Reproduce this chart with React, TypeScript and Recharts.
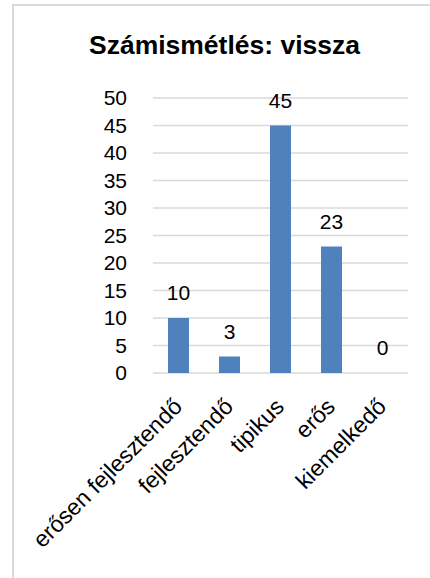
import React from "react";
import { ComposedChart, Bar, Line, XAxis, YAxis, CartesianGrid, LabelList } from "recharts";

const categories = ["erősen fejlesztendő", "fejlesztendő", "tipikus", "erős", "kiemelkedő"];
const values = [10, 3, 45, 23, 0];
const yTicks = [0, 5, 10, 15, 20, 25, 30, 35, 40, 45, 50];
const title = "Számismétlés: vissza";

const data = categories.map((c, i) => ({ name: c, value: values[i] }));

const FONT = "'Liberation Sans', Arial, sans-serif";

const XTick = (props: any) => {
  const { x, y, payload } = props;
  const ax = x + 5;
  const ay = y + 35;
  return (
    <text
      x={ax}
      y={ay}
      textAnchor="end"
      transform={`rotate(-45, ${ax}, ${ay})`}
      fontFamily={FONT}
      fontSize={23}
      fill="#000"
    >
      {payload.value}
    </text>
  );
};

export default function App() {
  return (
    <div style={{ position: "absolute", left: 0, top: 0, width: 430, height: 578, background: "#fff", overflow: "hidden" }}>
      <div
        style={{
          position: "absolute",
          left: 12,
          top: 4,
          width: 418,
          height: 574,
          borderTop: "2px solid #d9d9d9",
          borderLeft: "2px solid #d9d9d9",
          boxSizing: "border-box",
        }}
      />
      <div
        style={{
          position: "absolute",
          left: 0,
          top: 30,
          width: 449,
          textAlign: "center",
          fontFamily: FONT,
          fontWeight: "bold",
          fontSize: 26.5,
          color: "#000",
          lineHeight: "30px",
        }}
      >
        {title}
      </div>
      <div style={{ position: "absolute", left: 0, top: 0 }}>
        <ComposedChart width={430} height={578} data={data} margin={{ top: 98, right: 22, bottom: 0, left: 0 }}>
          <CartesianGrid vertical={false} stroke="#d9d9d9" strokeWidth={1.5} />
          <XAxis
            dataKey="name"
            axisLine={false}
            tickLine={false}
            tickSize={0}
            tickMargin={0}
            height={205}
            interval={0}
            tick={<XTick />}
          />
          <YAxis
            width={153}
            domain={[0, 50]}
            ticks={yTicks}
            axisLine={false}
            tickLine={false}
            tickSize={0}
            tickMargin={26}
            tick={{ fontFamily: FONT, fontSize: 21, fill: "#000" }}
            interval={0}
          />
          <Bar dataKey="value" fill="#4f81bd" barSize={21} isAnimationActive={false} />
          <Line
            dataKey="value"
            stroke="none"
            dot={false}
            activeDot={false}
            legendType="none"
            isAnimationActive={false}
          >
            <LabelList dataKey="value" position="top" offset={18} fontFamily={FONT} fontSize={21} fill="#000" />
          </Line>
        </ComposedChart>
      </div>
    </div>
  );
}
